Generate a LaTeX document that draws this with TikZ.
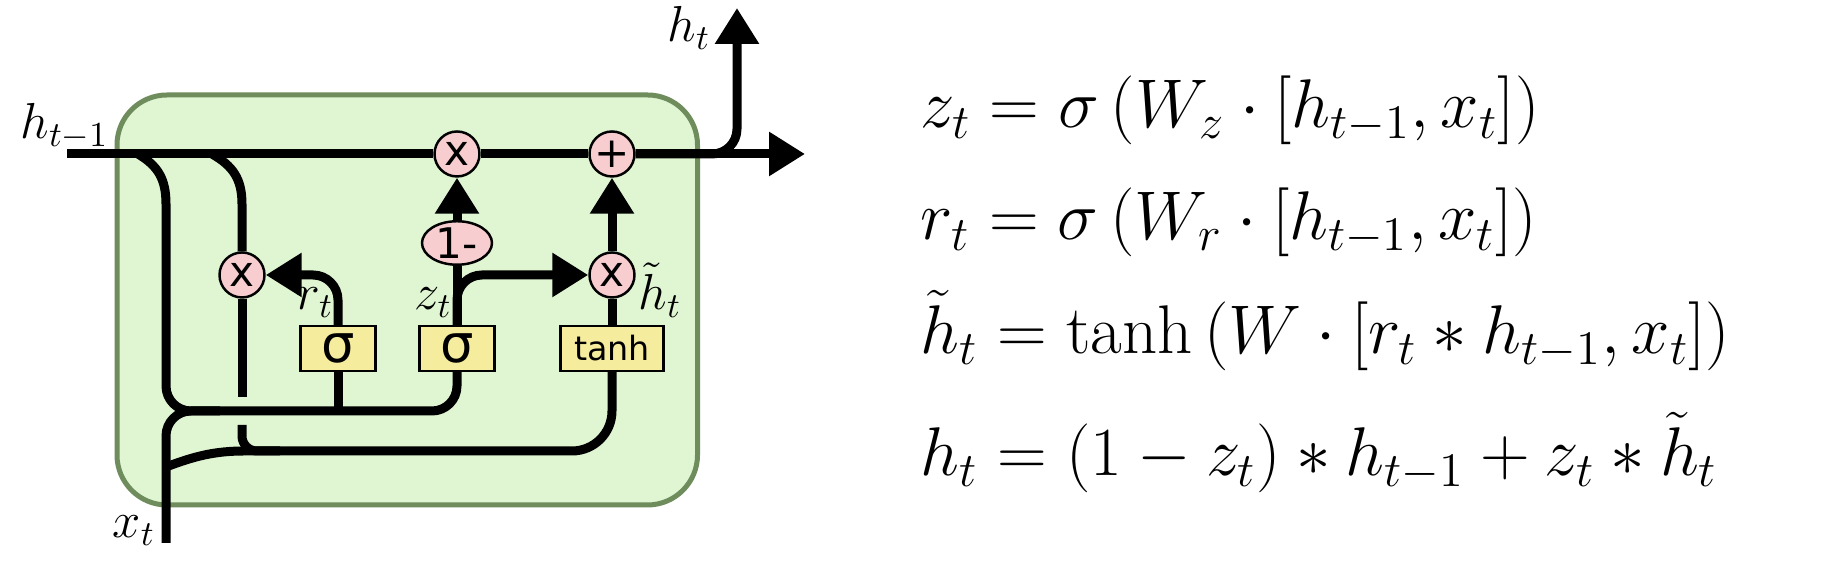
\RequirePackage{fix-cm}
\documentclass[tikz,border=0pt]{standalone}
\usepackage{amsmath}
\usepackage{fontspec}
\newfontfamily\gatefont{DejaVu Sans}
\usepackage{tikz}
\usetikzlibrary{shapes,arrows.meta}
\usetikzlibrary{calc}
\usetikzlibrary{backgrounds}
\definecolor{cellfill}{RGB}{224,246,211}
\definecolor{celldraw}{RGB}{110,140,92}
\definecolor{opfill}{RGB}{248,205,208}
\definecolor{boxfill}{RGB}{246,236,158}
\pgfdeclarelayer{wires}
\pgfsetlayers{background,wires,main}
\tikzstyle{every node}=[font=\fontsize{14.4}{16}\selectfont]
\tikzstyle{wire}=[line width=0.09cm,line join=round]
\tikzstyle{arr}=[-{Triangle[length=3.6mm,width=4.2mm]}]
\tikzstyle{op}=[circle,draw,line width=0.7pt,fill=opfill,minimum size=0.45cm,inner sep=0pt,font=\gatefont\fontsize{12}{12}\selectfont]
\tikzstyle{onem}=[ellipse,draw,line width=0.7pt,fill=opfill,minimum width=0.70cm,minimum height=0.42cm,inner sep=0pt,font=\gatefont\fontsize{12}{12}\selectfont]
\tikzstyle{nnbox}=[rectangle,draw,line width=0.7pt,fill=boxfill,minimum width=0.75cm,minimum height=0.45cm,inner sep=0pt,font=\gatefont\fontsize{15}{15}\selectfont]
\tikzstyle{lbl}=[anchor=base west,inner sep=0pt]
\tikzstyle{eqn}=[anchor=base west,inner sep=0pt,font=\fontsize{19.6}{23}\selectfont]

\begin{document}
\begin{tikzpicture}
\useasboundingbox (0,0) rectangle (18.26,5.64);

\node[op] (mulz) at (4.57,4.10) {x};
\node[op] (plus) at (6.12,4.10) {+};
\node[op] (mulr) at (2.42,2.89) {x};
\node[op] (mulh) at (6.12,2.89) {x};
\node[onem] (omz) at (4.57,3.21) {1-};
\node[nnbox] (sigr) at (3.38,2.155) {σ};
\node[nnbox] (sigz) at (4.57,2.155) {σ};
\node[nnbox,minimum width=1.03cm,font=\gatefont\fontsize{9.5}{10}\selectfont] (tanh) at (6.12,2.155) {tanh};

\node[lbl] (lhin) at (0.20,4.25) {$h_{t-1}$};
\node[lbl] (lhout) at (6.67,5.22) {$h_t$};
\node[lbl] (lxt) at (1.12,0.26) {$x_t$};
\node[lbl] (lrt) at (2.96,2.54) {$r_t$};
\node[lbl] (lzt) at (4.14,2.54) {$z_t$};
\node[lbl] (lht) at (6.38,2.54) {$\tilde{h}_t$};

\coordinate (hin) at (0.67,4.10);
\coordinate (hout) at (8.05,4.10);
\coordinate (hup) at (7.37,5.56);
\coordinate (xin) at (1.66,0.21);
\coordinate (j1) at (1.38,4.10);
\coordinate (j2) at (2.12,4.10);
\coordinate (busA) at (1.66,1.53);
\coordinate (xlow) at (1.66,0.97);
\coordinate (busB) at (2.45,1.13);
\coordinate (gapA) at (2.42,1.67);
\coordinate (gapB) at (2.42,1.39);

\begin{pgfonlayer}{background}
\fill[white] (0,0) rectangle (18.26,5.64);
\draw[line width=0.05cm,draw=celldraw,fill=cellfill,rounded corners=0.5cm] (1.17,0.59) rectangle (6.975,4.69);
\end{pgfonlayer}

\begin{pgfonlayer}{wires}
\draw[wire] (hin) -- (mulz);
\draw[wire] (mulz) -- (plus);
\draw[wire,arr] (plus) -- (hout);
\draw[wire,arr,rounded corners=2.5mm] (plus) -| (hup);

\draw[wire] (j1) .. controls (1.58,3.98) and (1.66,3.85) .. (1.66,3.60);
\draw[wire,rounded corners=2.5mm] (1.66,3.60) -- (busA) -| (sigz);
\draw[wire] (sigr) -- (sigr |- busA);
\draw[wire,rounded corners=2.5mm] (xin) |- (2.2,1.53);
\draw[wire] (xlow) .. controls (1.95,1.08) and (2.15,1.13) .. (busB);
\draw[wire,rounded corners=4mm] (busB) -| (tanh);

\draw[wire] (j2) .. controls (2.33,3.98) and (2.42,3.85) .. (2.42,3.60) -- (mulr);
\draw[wire] (mulr) -- (gapA);
\draw[wire,rounded corners=1.5mm] (gapB) |- (2.8,1.13);

\draw[wire,arr,rounded corners=2.5mm] (sigr) |- (mulr);
\draw[wire] (sigz) -- (omz);
\draw[wire,arr] (omz) -- (mulz);
\draw[wire,arr,rounded corners=2.5mm] (sigz) |- (mulh);
\draw[wire] (tanh) -- (mulh);
\draw[wire,arr] (mulh) -- (plus);
\end{pgfonlayer}

\node[eqn] (eqz) at (9.20,4.36) {$z_t = \sigma\left(W_z\cdot\left[h_{t-1},x_t\right]\right)$};
\node[eqn] (eqr) at (9.20,3.24) {$r_t = \sigma\left(W_r\cdot\left[h_{t-1},x_t\right]\right)$};
\node[eqn] (eqh) at (9.20,2.10) {$\tilde{h}_t = \tanh\left(W\cdot\left[r_t * h_{t-1},x_t\right]\right)$};
\node[eqn] (eqo) at (9.20,0.88) {$h_t = (1-z_t) * h_{t-1} + z_t * \tilde{h}_t$};
\end{tikzpicture}
\end{document}
